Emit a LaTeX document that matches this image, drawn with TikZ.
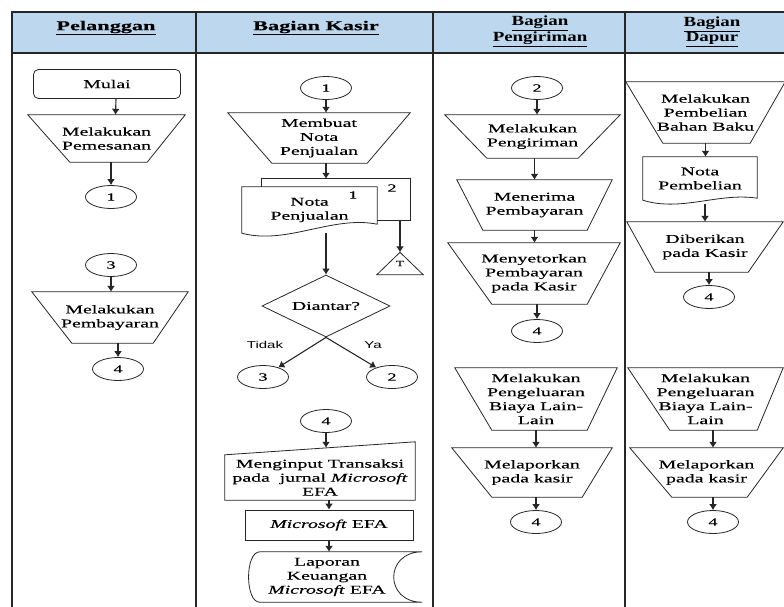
\documentclass[tikz,border=0pt]{standalone}
\usepackage{fontspec}
\setmainfont[FakeStretch=1.65, FakeBold=0.3]{Liberation Serif}
\newfontfamily\headnarrow[FakeStretch=1.35]{Liberation Serif}
\newfontfamily\lblsans[FakeStretch=1.5]{Liberation Sans}
\usetikzlibrary{shapes.geometric}
\usetikzlibrary{arrows.meta}
\usetikzlibrary{calc}
\definecolor{headblue}{RGB}{189,215,238}

\begin{document}
\begin{tikzpicture} [
    x=1pt, y=-1pt,
    lanes/.style = {draw=black!85, line width=1.2pt},
    outline/.style = {draw=black!85, line width=0.8pt},
    arr/.style = {black!85, line width=1.1pt, -{Latex[length=6pt,width=8pt]}},
    txt/.style = {align=center, inner sep=0pt, font=\fontsize{12}{14}\selectfont},
    head/.style = {align=center, font=\bfseries\fontsize{13.5}{14}\selectfont},
    headsm/.style = {align=center, font=\headnarrow\bfseries\fontsize{14}{13}\selectfont},
    manual/.style 2 args = {txt, minimum width=#1, minimum height=#2},
    start/.style = {outline, txt, rounded corners=5, minimum width=147, minimum height=29},
    conn/.style = {outline, ellipse, inner sep=0pt, minimum width=51, minimum height=23, font=\fontsize{11}{13}\selectfont},
    num/.style = {inner sep=0pt, font=\fontsize{11}{13}\selectfont},
    sanslbl/.style = {inner sep=0pt, font=\lblsans\fontsize{10}{12}\selectfont}
    ]
    \useasboundingbox (0,0) rectangle (784,606);
    \clip (0,0) rectangle (784,606);

    % lanes
    \fill[headblue] (12,12) rectangle (800,53);
    \draw[lanes] (12,620) -- (12,12) -- (800,12);
    \draw[lanes] (12,53) -- (800,53);
    \foreach \x in {196,433,625}
        \draw[lanes] (\x,12) -- (\x,620);

    \node[head] (hpel) at (106,28) {\underline{Pelanggan}};
    \node[head] (hkas) at (316,28) {\underline{Bagian Kasir}};
    \node[headsm] (hpeng) at (540,31.5) {\underline{Bagian}\\\underline{Pengiriman}};
    \node[headsm] (hdap) at (712,31.5) {\underline{Bagian}\\\underline{Dapur}};

    % Pelanggan
    \node[start] (mulai) at (107,84) {Mulai};
    \node[manual={157}{47}] (pesan) at (106.5,138.5) {Melakukan\\Pemesanan};
    \node[conn] (c1a) at (111,197) {1};
    \node[conn] (c3a) at (111,265) {3};
    \node[manual={156}{51}] (bayar) at (110,317.5) {Melakukan\\Pembayaran};
    \node[conn] (c4a) at (118,369) {4};

    % Bagian Kasir
    \node[conn] (c1b) at (326,88) {1};
    \node[manual={182}{50}] (buat) at (319,138) {Membuat\\Nota\\Penjualan};
    \node[inner sep=0pt, minimum width=148, minimum height=41] (nota2) at (336,199.5) {};
    \node[manual={135}{46}] (nota1) at (309.5,210) {Nota\\Penjualan};
    \node[num] (n1) at (353,195) {1};
    \node[num] (n2) at (392,188) {2};
    \node[txt, minimum width=46, minimum height=22, font=\fontsize{8}{9}\selectfont] (arsip) at (400,263.5) {T};
    \node[outline, txt, diamond, aspect=2.06, minimum width=128, minimum height=62] (dia) at (326,306) {Diantar?};
    \node[sanslbl] (tidak) at (265,345) {Tidak};
    \node[sanslbl] (ya) at (373,345) {Ya};
    \node[conn] (c3b) at (263,377) {3};
    \node[conn] (c2b) at (392,377) {2};
    \node[conn] (c4b) at (326,421) {4};
    \node[manual={190}{45}] (input) at (320,477.5) {Menginput Transaksi\\pada~ jurnal \textit{Microsoft}\\EFA};
    \node[outline, manual={168}{30}] (efa) at (329,525) {\textit{Microsoft} EFA};
    \node[manual={164}{50}] (lap) at (327,577) {Laporan\\Keuangan\\\textit{Microsoft} EFA};

    % Bagian Pengiriman
    \node[conn] (c2c) at (537,88) {2};
    \node[manual={175}{43}] (kirim) at (532.5,136.5) {Melakukan\\Pengiriman};
    \node[manual={155}{50}] (terima) at (534.5,205) {Menerima\\Pembayaran};
    \node[manual={172}{61}] (setor) at (534,273.5) {Menyetorkan\\Pembayaran\\pada Kasir};
    \node[conn] (c4c) at (537,331) {4};
    \node[manual={162}{62}] (keluar3) at (536,399) {Melakukan\\Pengeluaran\\Biaya Lain-\\Lain};
    \node[manual={160}{49}] (lapor3) at (532,472.5) {Melaporkan\\pada kasir};
    \node[conn] (c4d) at (536,522) {4};

    % Bagian Dapur
    \node[manual={159}{61}] (beli) at (705.5,112.5) {Melakukan\\Pembelian\\Bahan Baku};
    \node[manual={114}{43}] (notab) at (700,178.5) {Nota\\Pembelian};
    \node[manual={156}{50}] (beri) at (705,247) {Diberikan\\pada Kasir};
    \node[conn] (c4e) at (709,297) {4};
    \node[manual={155}{62}] (keluar4) at (705.5,399) {Melakukan\\Pengeluaran\\Biaya Lain-\\Lain};
    \node[manual={153}{49}] (lapor4) at (706.5,472.5) {Melaporkan\\pada kasir};
    \node[conn] (c4f) at (713,522) {4};

    % manual operation outlines
    \foreach \n/\l/\r in {pesan/42/38, bayar/40/35, buat/44/43, kirim/42/42,
        terima/26/25, setor/44/33, keluar3/37/30, lapor3/40/30,
        beli/37/35, beri/28/35, keluar4/42/26, lapor4/42/36}
        \draw[outline] (\n.north west) -- (\n.north east) -- ([xshift=-\r]\n.south east) -- ([xshift=\l]\n.south west) -- cycle;

    % documents and other symbols
    \draw[outline] (nota1.north -| nota2.west) -- (nota2.north west) -- (nota2.north east) -- (nota2.south east) -- (nota2.south -| nota1.east);
    \draw[outline] (nota1.south west) -- (nota1.north west) -- (nota1.north east) -- ([yshift=9]nota1.south east) .. controls +(-45,-9) and +(45,12) .. (nota1.south west);
    \draw[outline] (notab.south west) -- (notab.north west) -- (notab.north east) -- ([yshift=2]notab.south east) .. controls +(-38,-6) and +(38,12) .. (notab.south west);
    \draw[outline] (arsip.south west) -- (arsip.south east) -- (arsip.north) -- cycle;
    \draw[outline] (input.south west) -- (input.north west) -- ([yshift=13]input.north east) -- (input.south east) -- cycle;
    \draw[outline] ([xshift=13]lap.north east) -- ([xshift=15]lap.north west) .. controls (lap.north west) and (lap.south west) .. ([xshift=15]lap.south west) -- ([xshift=13]lap.south east) .. controls ([xshift=-25]lap.south east) and ([xshift=-25]lap.north east) .. ([xshift=13]lap.north east);

    % flow
    \draw[arr] ([xshift=9]mulai.south) -- ([xshift=9]pesan.north);
    \draw[arr] (pesan.south -| c1a) -- (c1a);
    \draw[arr] (c3a) -- (c3a |- bayar.north);
    \draw[arr] (bayar.south -| c4a) -- (c4a);

    \draw[arr] (c1b) -- (c1b |- buat.north);
    \draw[arr] (buat.south -| c1b) -- (nota2.north -| c1b);
    \draw[arr] (nota2.south -| arsip) -- (arsip.north);
    \draw[arr] (nota1.south -| dia) -- (dia.north);
    \draw[arr] (dia.south) -- (c3b);
    \draw[arr] (dia.south) -- (c2b);
    \draw[arr] (c4b) -- ($(input.north -| c4b)+(0,-7)$);
    \draw[arr] (input.south -| efa) -- (efa.north);
    \draw[arr] (efa.south) -- (efa.south |- lap.north);

    \draw[arr] (c2c) -- (c2c |- kirim.north);
    \draw[arr] (kirim.south -| terima) -- (terima.north);
    \draw[arr] (terima.south) -- (terima.south |- setor.north);
    \draw[arr] (setor.south -| c4c) -- (c4c);
    \draw[arr] (keluar3.south) -- (keluar3.south |- lapor3.north);
    \draw[arr] (lapor3.south -| c4d) -- (c4d);

    \draw[arr] (beli.south) -- (beli.south |- notab.north);
    \draw[arr] ($(notab.south -| beri)+(0,4)$) -- (beri.north);
    \draw[arr] (beri.south -| c4e) -- (c4e);
    \draw[arr] (keluar4.south -| c4f) -- (c4f |- lapor4.north);
    \draw[arr] (lapor4.south -| c4f) -- (c4f);
\end{tikzpicture}
\end{document}
